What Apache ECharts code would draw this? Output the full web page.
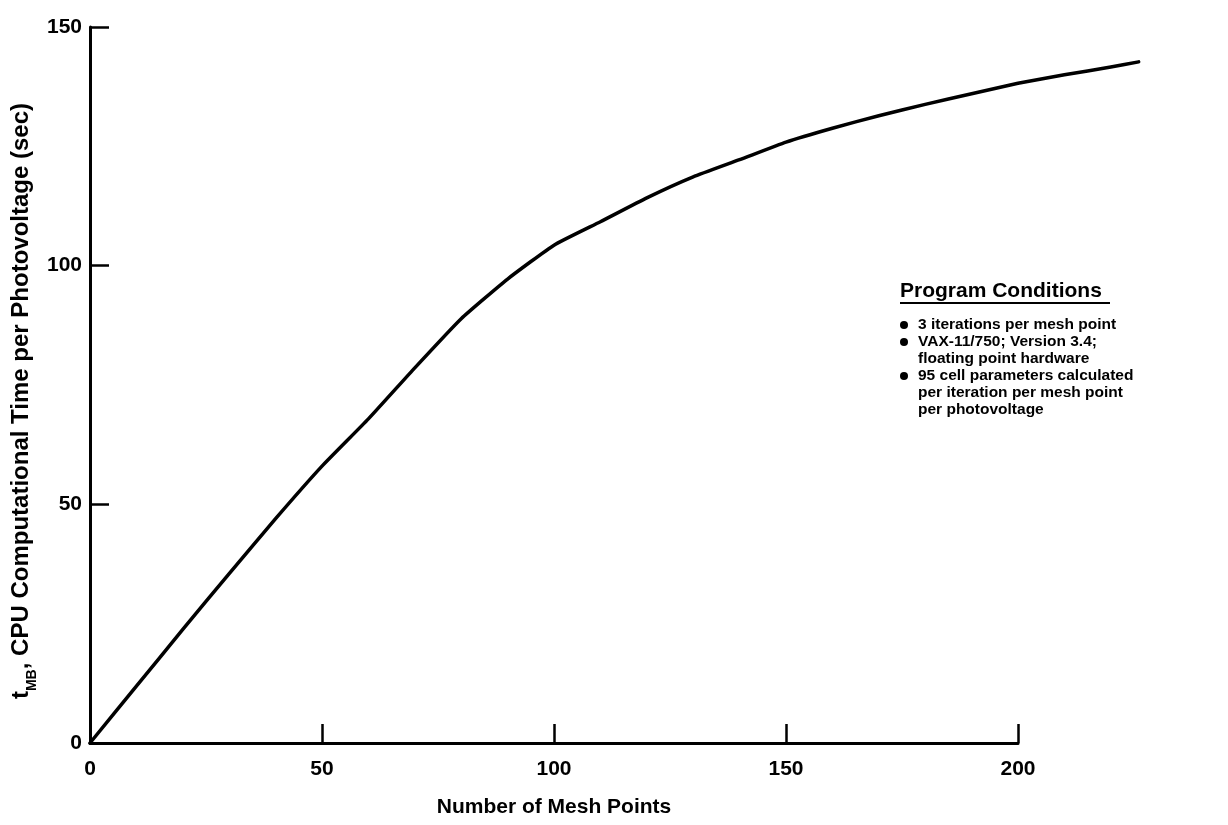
<!DOCTYPE html>
<html>
<head>
<meta charset="utf-8">
<title>CPU Computational Time vs Number of Mesh Points</title>
<script src="https://cdn.jsdelivr.net/npm/echarts@6/dist/echarts.min.js"></script>
<style>
  html, body { margin: 0; padding: 0; background: #ffffff; }
  #chart { width: 1228px; height: 825px; }
</style>
</head>
<body>
<div id="chart"></div>
<script>
// Number of mesh points (x) and CPU time per photovoltage in seconds (y)
const meshPoints = [0, 10, 20, 30, 40, 50, 60, 70, 80, 90, 100, 110, 120, 130, 140, 150, 160, 170, 180, 190, 200, 210, 220, 226];
const cpuTime    = [0, 11.9, 23.8, 35.5, 47.0, 58.0, 67.9, 78.6, 88.9, 97.2, 104.3, 109.2, 114.2, 118.6, 122.2, 125.9, 128.8, 131.4, 133.8, 136.0, 138.2, 140.0, 141.6, 142.7];

// Axis ranges (the drawn axis stops at 200, the curve runs a little further)
const xRange = { min: 0, max: 200, step: 50 };
const yRange = { min: 0, max: 150, step: 50 };
const curveXMax = 230;

// Text of the notes block
const notesTitle = 'Program Conditions';
const notes = [
  ['3 iterations per mesh point'],
  ['VAX-11/750; Version 3.4;', 'floating point hardware'],
  ['95 cell parameters calculated', 'per iteration per mesh point', 'per photovoltage']
];

const FONT = '"Liberation Sans", Arial, Helvetica, sans-serif';

// Plot frame in pixels
const plotLeft = 90, plotTop = 27, plotBottom = 82;
const plotWidth = 1018 - plotLeft;               // width spanned by 0..200
const curveRight = 1228 - (plotLeft + plotWidth * curveXMax / xRange.max);

const chart = echarts.init(document.getElementById('chart'), null, { renderer: 'canvas' });

// Notes block built from graphic elements
const noteElements = [];
const notesX = 900;
noteElements.push({
  type: 'text', x: notesX, y: 291,
  style: { text: notesTitle, font: 'bold 21px ' + FONT, fill: '#000', textVerticalAlign: 'middle' }
});
noteElements.push({
  type: 'line', shape: { x1: notesX, y1: 303, x2: 1110, y2: 303 },
  style: { stroke: '#000', lineWidth: 2 }
});
let lineY = 325;
const lineStep = 17;
notes.forEach(function (item) {
  noteElements.push({
    type: 'circle', shape: { cx: notesX + 4, cy: lineY, r: 4 },
    style: { fill: '#000' }
  });
  item.forEach(function (txt) {
    noteElements.push({
      type: 'text', x: notesX + 18, y: lineY,
      style: { text: txt, font: 'bold 15.5px ' + FONT, fill: '#000', textVerticalAlign: 'middle' }
    });
    lineY += lineStep;
  });
});

const labelStyle = { fontFamily: FONT, fontWeight: 'bold', fontSize: 21, color: '#000' };

const option = {
  backgroundColor: '#ffffff',
  animation: false,
  grid: [
    // axes frame: 0..200 on x
    { left: plotLeft, width: plotWidth, top: plotTop, bottom: plotBottom, containLabel: false, outerBoundsMode: 'none' },
    // curve frame: same scale, extended to the right
    { left: plotLeft, right: curveRight, top: plotTop, bottom: plotBottom, containLabel: false, outerBoundsMode: 'none' }
  ],
  xAxis: [
    {
      type: 'value', gridIndex: 0,
      min: xRange.min, max: xRange.max, interval: xRange.step,
      name: 'Number of Mesh Points',
      nameLocation: 'middle',
      nameGap: 54,
      nameTextStyle: labelStyle,
      axisLine: { show: true, lineStyle: { color: '#000', width: 3 } },
      axisTick: { show: true, inside: true, length: 19, lineStyle: { color: '#000', width: 2.5 } },
      axisLabel: Object.assign({ margin: 16 }, labelStyle),
      splitLine: { show: false }
    },
    {
      type: 'value', gridIndex: 1, show: false,
      min: xRange.min, max: curveXMax
    }
  ],
  yAxis: [
    {
      type: 'value', gridIndex: 0,
      min: yRange.min, max: yRange.max, interval: yRange.step,
      axisLine: { show: true, lineStyle: { color: '#000', width: 3 } },
      axisTick: { show: true, inside: true, length: 19, lineStyle: { color: '#000', width: 2.5 } },
      axisLabel: Object.assign({ margin: 8 }, labelStyle),
      splitLine: { show: false }
    },
    {
      type: 'value', gridIndex: 1, show: false,
      min: yRange.min, max: yRange.max
    }
  ],
  graphic: [
    {
      type: 'text',
      x: 21, y: 401,
      rotation: Math.PI / 2,
      style: {
        text: '{t|t}{s|MB}{t|, CPU Computational Time per Photovoltage (sec)}',
        textAlign: 'center',
        textVerticalAlign: 'middle',
        fill: '#000',
        rich: {
          t: { fontFamily: FONT, fontWeight: 'bold', fontSize: 24, lineHeight: 28, verticalAlign: 'middle', fill: '#000' },
          s: { fontFamily: FONT, fontWeight: 'bold', fontSize: 14, lineHeight: 36, verticalAlign: 'bottom', fill: '#000' }
        }
      }
    }
  ].concat(noteElements),
  series: [
    {
      type: 'line',
      xAxisIndex: 1,
      yAxisIndex: 1,
      data: meshPoints.map(function (x, i) { return [x, cpuTime[i]]; }),
      showSymbol: false,
      symbol: 'none',
      clip: false,
      smooth: 0.15,
      lineStyle: { color: '#000', width: 3.5, cap: 'round', join: 'round' }
    }
  ]
};

chart.setOption(option);
</script>
</body>
</html>
